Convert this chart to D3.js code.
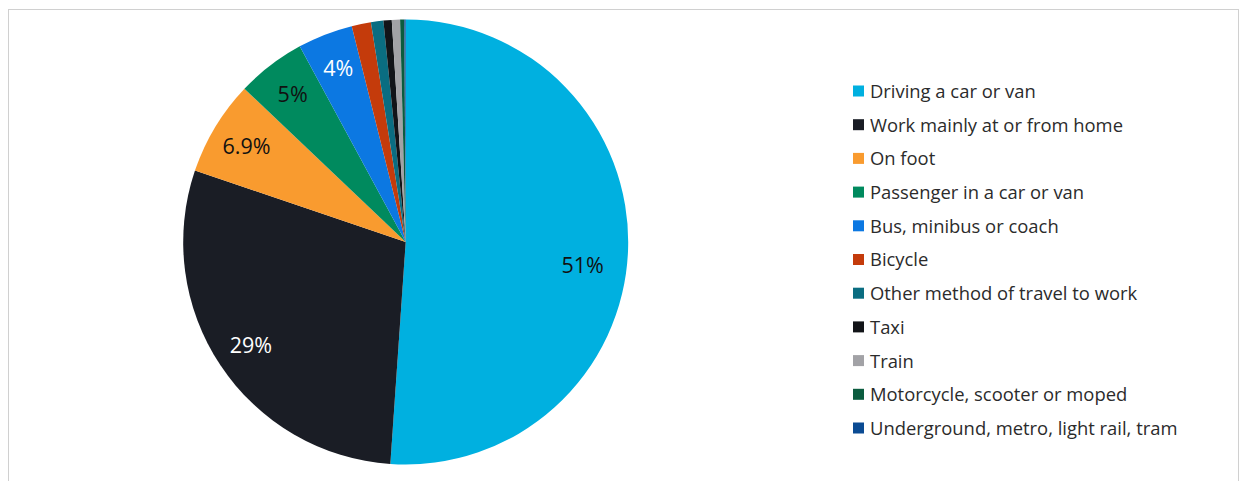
<!DOCTYPE html>
<html>
<head>
<meta charset="utf-8">
<script src="https://cdn.jsdelivr.net/npm/d3@7/dist/d3.min.js"></script>
<style>
  html, body { margin: 0; padding: 0; background: #ffffff; }
  svg { display: block; font-family: "Open Sans", "Noto Sans", sans-serif; }
</style>
</head>
<body>
<svg id="chart" width="1242" height="481"></svg>
<script>
// Method of travel to work, share of residents (%)
const categories = [
  "Driving a car or van",
  "Work mainly at or from home",
  "On foot",
  "Passenger in a car or van",
  "Bus, minibus or coach",
  "Bicycle",
  "Other method of travel to work",
  "Taxi",
  "Train",
  "Motorcycle, scooter or moped",
  "Underground, metro, light rail, tram"
];
const shares = [51.1, 29.1, 6.9, 5.0, 4.0, 1.4, 0.9, 0.6, 0.6, 0.3, 0.1];
const sliceLabels = ["51%", "29%", "6.9%", "5%", "4%", "", "", "", "", "", ""];
const colors = [
  "#00b0e0", "#1a1d25", "#f99b2f", "#008a5e", "#0c78e2", "#c43b0b",
  "#0a6d81", "#121418", "#a2a2a6", "#0b5c3f", "#0b4b93"
];
const labelColors = ["#111", "#fff", "#111", "#111", "#fff", "#111", "#111", "#111", "#111", "#111", "#111"];

const rows = categories.map((c, i) => ({
  name: c, value: shares[i], label: sliceLabels[i], color: colors[i], labelColor: labelColors[i]
}));

const svg = d3.select("#chart");

// chart-area frame
svg.append("rect")
  .attr("x", 8.5).attr("y", 9.5)
  .attr("width", 1230).attr("height", 490)
  .attr("fill", "none").attr("stroke", "#d0d0d0").attr("stroke-width", 1);

const cx = 405.7, cy = 242, R = 222.5;

const pie = d3.pie().sort(null).value(d => d.value);
const arcs = pie(rows);
const arc = d3.arc().innerRadius(0).outerRadius(R);
const labelArc = d3.arc().innerRadius(186).outerRadius(186);

const g = svg.append("g").attr("transform", `translate(${cx},${cy})`);

g.selectAll("path.slice")
  .data(arcs)
  .join("path")
  .attr("class", "slice")
  .attr("d", arc)
  .attr("fill", d => d.data.color);

// the largest slice's label sits a little lower than its centroid
const labelShift = { "Driving a car or van": [-9, 17] };

g.selectAll("text.pct")
  .data(arcs.filter(d => d.data.label))
  .join("text")
  .attr("class", "pct")
  .attr("transform", d => {
    const [x, y] = labelArc.centroid(d);
    const s = labelShift[d.data.name] || [0, 0];
    return `translate(${x + s[0]},${y + s[1]})`;
  })
  .attr("text-anchor", "middle")
  .attr("dy", "0.36em")
  .attr("font-size", 21.5)
  .attr("fill", d => d.data.labelColor)
  .text(d => d.data.label);

// legend
const legendY = d3.scalePoint()
  .domain(categories)
  .range([91.5, 428.5]);

const legend = svg.append("g");
const items = legend.selectAll("g.item")
  .data(rows)
  .join("g")
  .attr("class", "item")
  .attr("transform", d => `translate(853,${legendY(d.name)})`);

items.append("rect")
  .attr("x", 0).attr("y", -6)
  .attr("width", 11).attr("height", 11)
  .attr("fill", d => d.color);

items.append("text")
  .attr("x", 17).attr("y", 0)
  .attr("dy", "0.35em")
  .attr("font-size", 18.4)
  .attr("fill", "#2b2b2b")
  .text(d => d.name);
</script>
</body>
</html>
